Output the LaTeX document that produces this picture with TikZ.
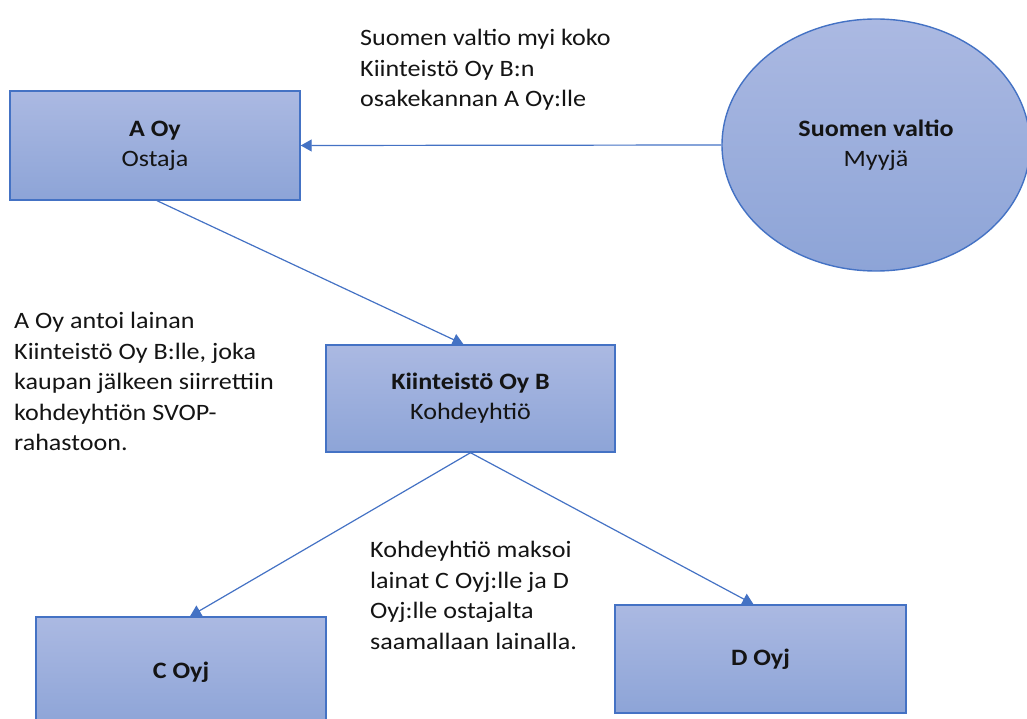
\documentclass[tikz,border=0pt]{standalone}
\usepackage{fontspec}
\setmainfont{Carlito}[FakeStretch=1.11]
\usetikzlibrary{arrows.meta,shapes.geometric}
\definecolor{edgeblue}{RGB}{68,114,196}
\definecolor{filltop}{RGB}{171,185,226}
\definecolor{fillbot}{RGB}{141,164,215}
\definecolor{inkgray}{RGB}{20,20,20}
\tikzset{
  entity/.style={draw=edgeblue, line width=1.4pt, top color=filltop, bottom color=fillbot,
    text=inkgray, font=\fontsize{23.5}{30}\selectfont, align=center, inner sep=0pt},
  boxent/.style={entity, rectangle},
  ovalent/.style={entity, ellipse},
  flow/.style={draw=edgeblue, line width=1.2pt, -{Triangle[length=11pt,width=12pt]}},
  note/.style={anchor=north west, inner sep=0pt, align=left, text=inkgray,
    font=\fontsize{23.5}{30.5}\selectfont}
}
\begin{document}
\begin{tikzpicture}[x=1pt,y=1pt]
\useasboundingbox (0,0) rectangle (1027,-719);
% parties
\node[boxent, minimum width=290pt, minimum height=109pt] (aoy) at (155,-145.5)
  {\textbf{A Oy}\\Ostaja};
\node[ovalent, minimum width=308pt, minimum height=252pt] (state) at (876,-145)
  {\textbf{Suomen valtio}\\Myyjä};
\node[boxent, minimum width=289pt, minimum height=107pt] (koy) at (470.5,-398.5)
  {\textbf{Kiinteistö Oy B}\\Kohdeyhtiö};
\node[boxent, minimum width=290pt, minimum height=110pt] (coyj) at (181,-672)
  {\textbf{C Oyj}};
\node[boxent, minimum width=291pt, minimum height=108pt] (doyj) at (760.5,-659)
  {\textbf{D Oyj}};
% transactions
\draw[flow] (state.west) -- (aoy.east);
\draw[flow] ([xshift=2pt]aoy.south) -- ([xshift=-7pt]koy.north);
\draw[flow] (koy.south) -- ([xshift=9pt]coyj.north);
\draw[flow] (koy.south) -- ([xshift=-7pt]doyj.north);
% explanations
\node[note] (n1) at (360,-29) {Suomen valtio myi koko\\Kiinteistö Oy B:n\\osakekannan A Oy:lle};
\node[note] (n2) at (14,-312) {A Oy antoi lainan\\Kiinteistö Oy B:lle, joka\\kaupan jälkeen siirrettiin\\kohdeyhtiön SVOP-\\rahastoon.};
\node[note] (n3) at (370,-541) {Kohdeyhtiö maksoi\\lainat C Oyj:lle ja D\\Oyj:lle ostajalta\\saamallaan lainalla.};
\end{tikzpicture}
\end{document}
